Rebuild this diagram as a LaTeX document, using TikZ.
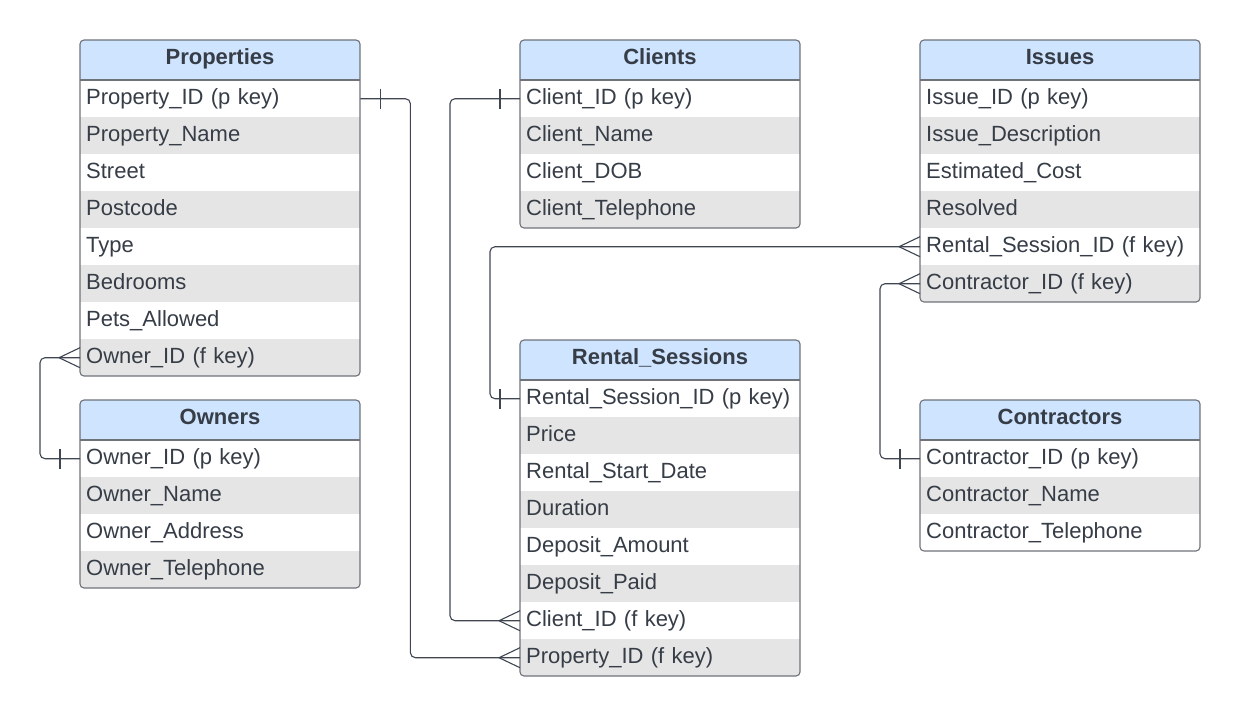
\documentclass[tikz,border=0pt]{standalone}
\usepackage{fontspec}
\setmainfont{Liberation Sans}
\usetikzlibrary{calc}
\definecolor{hdr}{HTML}{CFE4FF}
\definecolor{rowgray}{HTML}{E5E5E5}
\definecolor{bord}{HTML}{6E737A}
\definecolor{txt}{HTML}{363D47}
\definecolor{lnk}{HTML}{3F4652}
\tikzset{
  rowbox/.style={rectangle, anchor=north west, minimum width=280pt, minimum height=37pt,
    text width=268pt, inner xsep=6pt, inner ysep=0pt, align=left, text=txt,
    text height=16pt, text depth=5pt,
    font=\fontsize{22}{26}\selectfont},
  titlebox/.style={text=txt, font=\fontsize{22}{26}\selectfont\bfseries, inner sep=0pt, anchor=base},
  frame/.style={draw=bord, line width=1.1pt, rounded corners=4pt},
  conn/.style={draw=lnk, line width=1.1pt, rounded corners=5pt},
  tickline/.style={draw=lnk, line width=1.1pt}
}
% #1 name, #2 x, #3 y, #4 rows count, #5 title, #6 rows
\newcommand{\ertable}[6]{%
  \begin{scope}
    \clip[rounded corners=4pt] (#2,#3) rectangle ++(280,{40+37*#4});
    \fill[hdr] (#2,#3) rectangle ++(280,40);
    \foreach \t [count=\i] in {#6} {%
      \ifodd\i \def\rf{white}\else\def\rf{rowgray}\fi
      \node[rowbox, fill=\rf] (#1-\i) at (#2,{#3+40+37*(\i-1)}) {\t};
    }
  \end{scope}
  \node[titlebox] (#1-h) at ({#2+140},{#3+24.3}) {#5};
  \draw[bord, line width=1.1pt] (#2,{#3+40}) -- ++(280,0);
  \draw[frame] (#2,#3) rectangle ++(280,{40+37*#4});
}
\newcommand{\crowL}[1]{%
  \draw[tickline] ($(#1.west)+(-21,0)$) -- ($(#1.west)+(0,-10)$);
  \draw[tickline] ($(#1.west)+(-21,0)$) -- ($(#1.west)+(0,10)$);
}
\newcommand{\barL}[1]{\draw[tickline] ($(#1.west)+(-20,-10)$) -- ($(#1.west)+(-20,10)$);}
\newcommand{\barR}[1]{\draw[tickline] ($(#1.east)+(20,-10)$) -- ($(#1.east)+(20,10)$);}
\begin{document}
\begin{tikzpicture}[x=1pt,y=-1pt]
\useasboundingbox (0,0) rectangle (1241,716);
\fill[white] (0,0) rectangle (1241,716);

\ertable{pr}{80}{40}{8}{Properties}{Property\_ID (p key),Property\_Name,Street,Postcode,Type,Bedrooms,Pets\_Allowed,Owner\_ID (f key)}
\ertable{ow}{80}{400}{4}{Owners}{Owner\_ID (p key),Owner\_Name,Owner\_Address,Owner\_Telephone}
\ertable{cl}{520}{40}{4}{Clients}{Client\_ID (p key),Client\_Name,Client\_DOB,Client\_Telephone}
\ertable{rs}{520}{340}{8}{Rental\_Sessions}{Rental\_Session\_ID (p key),Price,Rental\_Start\_Date,Duration,Deposit\_Amount,Deposit\_Paid,Client\_ID (f key),Property\_ID (f key)}
\ertable{is}{920}{40}{6}{Issues}{Issue\_ID (p key),Issue\_Description,Estimated\_Cost,Resolved,Rental\_Session\_ID (f key),Contractor\_ID (f key)}
\ertable{co}{920}{400}{3}{Contractors}{Contractor\_ID (p key),Contractor\_Name,Contractor\_Telephone}

% Properties -> Rental_Sessions
\draw[conn] (pr-1.east) -- ++(50,0) |- (rs-8.west);
\barR{pr-1}
\crowL{rs-8}
% Clients -> Rental_Sessions
\draw[conn] (cl-1.west) -- ++(-70,0) |- (rs-7.west);
\barL{cl-1}
\crowL{rs-7}
% Rental_Sessions -> Issues
\draw[conn] (is-5.west) -- ++(-430,0) |- (rs-1.west);
\crowL{is-5}
\barL{rs-1}
% Contractors -> Issues
\draw[conn] (is-6.west) -- ++(-40,0) |- (co-1.west);
\crowL{is-6}
\barL{co-1}
% Owners -> Properties
\draw[conn] (pr-8.west) -- ++(-40,0) |- (ow-1.west);
\crowL{pr-8}
\barL{ow-1}
\end{tikzpicture}
\end{document}
